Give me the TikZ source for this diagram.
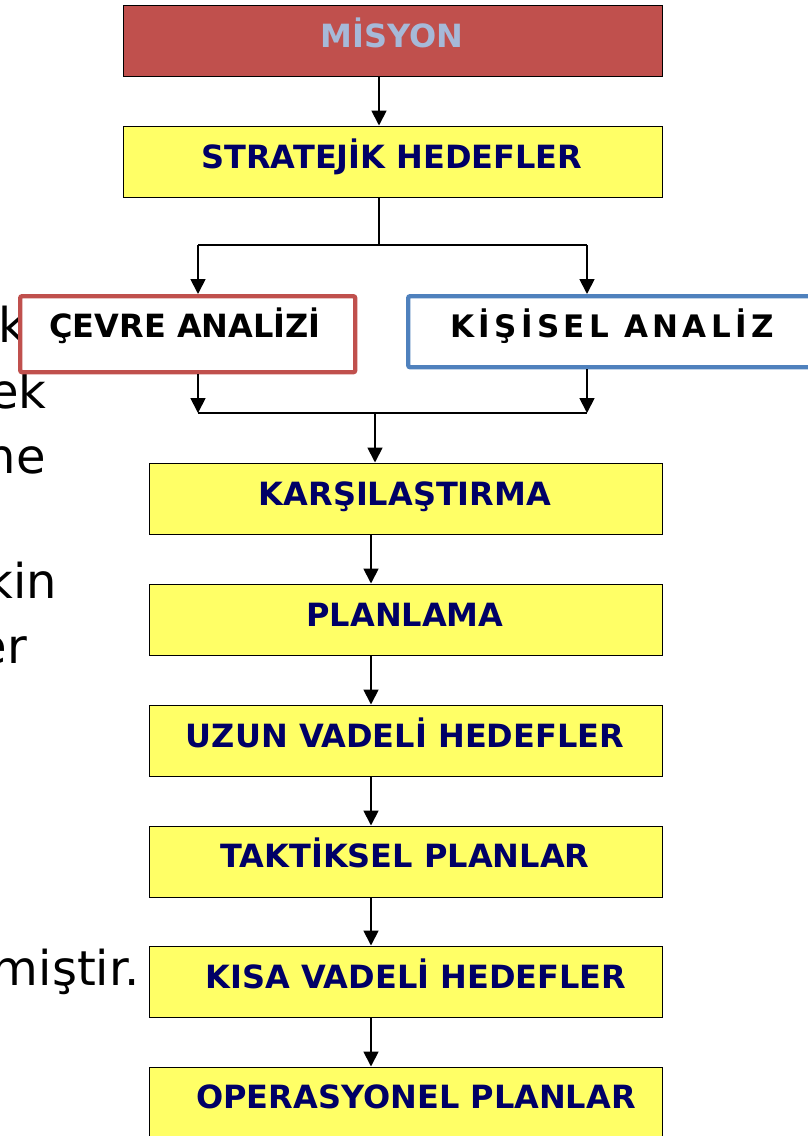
\documentclass[tikz,border=0pt]{standalone}
\usepackage{fontspec}
\setmainfont{DejaVu Sans}
\newfontfamily\kisfont[LetterSpace=14]{DejaVu Sans}
\usetikzlibrary{arrows.meta}
\definecolor{navytext}{RGB}{0,0,102}
\definecolor{boxyellow}{RGB}{255,255,102}
\definecolor{misred}{RGB}{192,80,77}
\definecolor{mistext}{RGB}{166,185,216}
\definecolor{kisblue}{RGB}{79,129,189}
\tikzset{
  ybox/.style={draw=black, line width=1.8pt, fill=boxyellow, rectangle, inner sep=0pt, anchor=north west},
  lbl/.style={font=\fontsize{32}{36}\selectfont\bfseries, text=navytext, anchor=base, inner sep=0pt},
  frag/.style={font=\fontsize{48}{58}\selectfont, text=black, anchor=base east, inner sep=0pt},
  arr/.style={line width=1.8pt, -{Triangle[width=15pt,length=15pt]}},
  ln/.style={line width=1.8pt},
}
\begin{document}
\begin{tikzpicture}[x=1pt,y=-1pt]
\useasboundingbox (0,0) rectangle (808,1136);
\clip (0,0) rectangle (808,1136);
% background text fragments
\node[frag] (f1) at (26,342) {k};
\node[frag] (f2) at (47,408) {ek};
\node[frag] (f3) at (46,473) {ne};
\node[frag] (f4) at (57,598) {kin};
\node[frag] (f5) at (27,663) {er};
\node[frag] (f6) at (140,985) {miştir.};
% boxes
\node[ybox, fill=misred, minimum width=539pt, minimum height=71pt] (mis) at (122.5,4.5) {};
\node[ybox, minimum width=539pt, minimum height=71pt] (str) at (122.5,125.5) {};
\node[draw=misred, line width=4.4pt, fill=white, rounded corners=2pt, rectangle, inner sep=0pt, anchor=north west, minimum width=335pt, minimum height=76pt] (cev) at (18,294) {};
\node[draw=kisblue, line width=4.4pt, fill=white, rounded corners=2pt, rectangle, inner sep=0pt, anchor=north west, minimum width=420pt, minimum height=71pt] (kis) at (406,294) {};
\node[ybox, minimum width=513pt, minimum height=71pt] (kar) at (148.5,462.5) {};
\node[ybox, minimum width=513pt, minimum height=71pt] (pla) at (148.5,583.5) {};
\node[ybox, minimum width=513pt, minimum height=71pt] (uzu) at (148.5,704.5) {};
\node[ybox, minimum width=513pt, minimum height=71pt] (tak) at (148.5,825.5) {};
\node[ybox, minimum width=513pt, minimum height=71pt] (kis2) at (148.5,945.5) {};
\node[ybox, minimum width=513pt, minimum height=71pt] (ope) at (148.5,1066.5) {};
% labels
\node[lbl, text=mistext] (misT) at (392,47) {MİSYON};
\node[lbl] (strT) at (392,168) {STRATEJİK HEDEFLER};
\node[lbl, text=black] (cevT) at (185,337) {ÇEVRE ANALİZİ};
\node[lbl, text=black, font=\fontsize{31}{36}\kisfont\bfseries] (kisT) at (612,337) {KİŞİSEL ANALİZ};
\node[lbl] (karT) at (405,505) {KARŞILAŞTIRMA};
\node[lbl] (plaT) at (405,626) {PLANLAMA};
\node[lbl] (uzuT) at (405,747) {UZUN VADELİ HEDEFLER};
\node[lbl] (takT) at (405,867) {TAKTİKSEL PLANLAR};
\node[lbl] (kisaT) at (416,988) {KISA VADELİ HEDEFLER};
\node[lbl] (opeT) at (416,1108) {OPERASYONEL PLANLAR};
% connectors
\coordinate (xa) at (379,0);
\coordinate (b) at (379,245);
\coordinate (bl) at (198,245);
\coordinate (br) at (587,245);
\coordinate (ml) at (198,413);
\coordinate (mr) at (587,413);
\coordinate (mc) at (375,413);
\coordinate (xc) at (371,0);
\draw[arr] (mis.south -| xa) -- (str.north -| xa);
\draw[ln] (str.south -| b) -- (b);
\draw[ln] (bl) -- (br);
\draw[arr] (bl) -- (cev.north -| bl);
\draw[arr] (br) -- (kis.north -| br);
\draw[arr] (cev.south -| ml) -- (ml);
\draw[arr] (kis.south -| mr) -- (mr);
\draw[ln] (ml) -- (mr);
\draw[arr] (mc) -- (kar.north -| mc);
\draw[arr] (kar.south -| xc) -- (pla.north -| xc);
\draw[arr] (pla.south -| xc) -- (uzu.north -| xc);
\draw[arr] (uzu.south -| xc) -- (tak.north -| xc);
\draw[arr] (tak.south -| xc) -- (kis2.north -| xc);
\draw[arr] (kis2.south -| xc) -- (ope.north -| xc);
\end{tikzpicture}
\end{document}
